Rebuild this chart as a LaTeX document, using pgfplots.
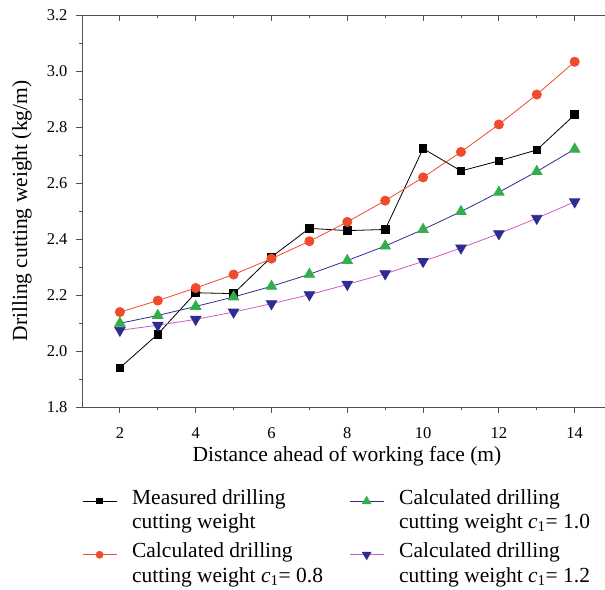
\documentclass[border=0pt]{standalone}
\usepackage{fontspec}
\setmainfont{Liberation Serif}
\usepackage{pgfplots}
\pgfplotsset{compat=1.18}
\definecolor{axgray}{RGB}{80,80,80}
\definecolor{cred}{RGB}{240,75,45}
\definecolor{cgreen}{RGB}{50,175,75}
\definecolor{cnavy}{RGB}{45,45,145}
\definecolor{cpink}{RGB}{210,90,195}
\newcommand{\lentry}[1]{\raisebox{0pt}[7pt][0pt]{\parbox[t]{210pt}{\fontsize{21.5}{24.5}\selectfont #1}}}
\begin{document}
\begin{tikzpicture}
\begin{axis}[
  name=ax, scale only axis, width=523pt, height=392pt,
  at={(0,0)}, anchor=south west,
  xmin=1, xmax=14.8, ymin=1.8, ymax=3.2,
  axis x line*=bottom, axis y line*=left,
  xtick={2,4,6,8,10,12,14}, ytick={1.8,2,2.2,2.4,2.6,2.8,3,3.2},
  minor x tick num=1, minor y tick num=1,
  tick align=outside, major tick length=6pt, minor tick length=3pt,
  axis line style={axgray, line width=0.9pt},
  every tick/.style={axgray, line width=0.8pt},
  /pgf/number format/assume math mode=true,
  every tick label/.append style={font=\fontsize{16.5}{18}\selectfont},
  yticklabel style={xshift=-5pt, /pgf/number format/fixed, /pgf/number format/fixed zerofill, /pgf/number format/precision=1},
  xticklabel style={yshift=-11pt},
  xlabel={Distance ahead of working face (m)},
  ylabel={Drilling cutting weight (kg/m)},
  every axis x label/.style={at={(axis description cs:0.5067,-0.1395)}, anchor=base, font=\fontsize{21.5}{24}\selectfont},
  every axis y label/.style={at={(axis description cs:-0.105,0.5)}, rotate=90, anchor=base, font=\fontsize{21.5}{24}\selectfont},
  legend style={at={(axis description cs:0,-0.229)}, anchor=north west, draw=none, fill=none,
    inner sep=0pt, outer sep=0pt, row sep=45pt, nodes={inner sep=0pt},
    /tikz/every even column/.append style={column sep=7pt},
    /tikz/every odd column/.append style={column sep=15pt}},
  legend cell align=left,
  legend columns=2, transpose legend,
]
\addplot[black, line width=0.8pt, mark=square*, mark size=3.8pt, mark options={solid},
  legend image code/.code={\draw[line width=1.1pt, mark size=2.5pt, mark repeat=2,mark phase=2] plot coordinates {(0pt,0pt) (17pt,0pt) (34pt,0pt)};}] coordinates {
(2,1.94)(3,2.06)(4,2.208)(5,2.205)(6,2.336)(7,2.438)(8,2.43)(9,2.434)(10,2.723)(11,2.643)(12,2.679)(13,2.718)(14,2.844)};
\addlegendentry{\lentry{Measured drilling\\cutting weight}}
\addplot[cred, line width=0.8pt, mark=*, mark size=4.6pt, mark options={fill=cred, draw=cred},
  legend image code/.code={\draw[line width=1.1pt, mark size=3.3pt, mark repeat=2,mark phase=2] plot coordinates {(0pt,0pt) (17pt,0pt) (34pt,0pt)};}] coordinates {
(2,2.139)(3,2.18)(4,2.225)(5,2.273)(6,2.33)(7,2.392)(8,2.461)(9,2.537)(10,2.62)(11,2.711)(12,2.809)(13,2.916)(14,3.033)};
\addlegendentry{\lentry{Calculated drilling\\cutting weight \textit{c}\textsubscript{1}= 0.8}}
\addplot[cnavy, line width=0.8pt, mark=triangle*, mark size=6pt, mark options={fill=cgreen, draw=cgreen},
  legend image code/.code={\draw[line width=1.1pt, mark size=4.5pt, mark repeat=2,mark phase=2] plot coordinates {(0pt,0pt) (17pt,0pt) (34pt,0pt)};}] coordinates {
(2,2.099)(3,2.127)(4,2.159)(5,2.193)(6,2.231)(7,2.274)(8,2.323)(9,2.375)(10,2.434)(11,2.498)(12,2.567)(13,2.641)(14,2.721)};
\addlegendentry{\lentry{Calculated drilling\\cutting weight \textit{c}\textsubscript{1}= 1.0}}
\addplot[cpink, line width=0.8pt, mark=triangle*, mark size=6pt, mark options={rotate=180, fill=cnavy, draw=cnavy},
  legend image code/.code={\draw[line width=1.1pt, mark size=4.5pt, mark repeat=2,mark phase=2] plot coordinates {(0pt,0pt) (17pt,0pt) (34pt,0pt)};}] coordinates {
(2,2.074)(3,2.092)(4,2.113)(5,2.139)(6,2.169)(7,2.201)(8,2.238)(9,2.276)(10,2.32)(11,2.368)(12,2.419)(13,2.474)(14,2.533)};
\addlegendentry{\lentry{Calculated drilling\\cutting weight \textit{c}\textsubscript{1}= 1.2}}
\end{axis}
\begin{axis}[
  scale only axis, width=523pt, height=392pt,
  at={(0,0)}, anchor=south west,
  xmin=1, xmax=14.8, ymin=1.8, ymax=3.2,
  axis x line*=top, hide y axis,
  xtick={2,4,6,8,10,12,14}, minor x tick num=1, xticklabels={},
  tick align=inside, major tick length=6pt, minor tick length=3pt,
  axis line style={axgray, line width=0.9pt},
  every tick/.style={axgray, line width=0.8pt},
]
\end{axis}
\pgfresetboundingbox
\path (-82pt,-182pt) rectangle (523pt,407pt);
\end{tikzpicture}
\end{document}
